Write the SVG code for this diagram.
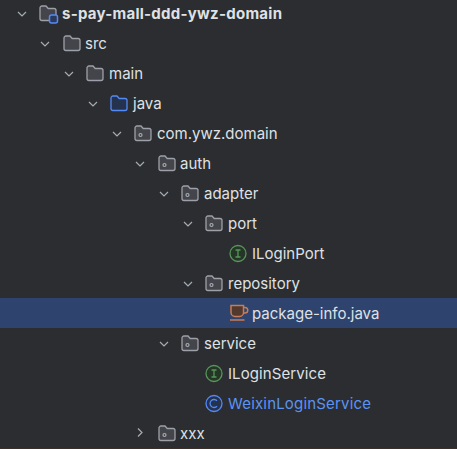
<svg xmlns="http://www.w3.org/2000/svg" width="457" height="449" viewBox="0 0 457 449">
<style>
text{font-family:Inter,"Noto Sans",sans-serif;font-size:15px;fill:#dfe1e5}
.chev{fill:none;stroke:#a8adb3;stroke-width:1.2}
.f{fill:#43454a;stroke:#9da0a8;stroke-width:1.3}
.dot{fill:none;stroke:#a8adb3;stroke-width:1.2}
</style>
<defs>
<path id="fp" d="M0.500 3a2 2 0 0 1 2-2h4l2.200 2.500h5.800a2 2 0 0 1 2 2v8a2 2 0 0 1-2 2h-12a2 2 0 0 1-2-2z"/>
<g id="pkg"><use href="#fp" class="f"/><circle cx="6" cy="10" r="1.500" class="dot"/></g>
<path id="cd" d="M-4-2L0 2L4-2" class="chev"/>
</defs>
<rect width="457" height="449" fill="#2b2d30"/>
<rect y="298" width="457" height="30" fill="#2e436e"/>
<rect y="448" width="457" height="1" fill="#3a3029"/>
<g id="connectors">
<use href="#cd" x="22" y="14"/><use href="#cd" x="45" y="44"/><use href="#cd" x="69" y="74"/><use href="#cd" x="93" y="104"/><use href="#cd" x="117" y="134"/><use href="#cd" x="140" y="164"/><use href="#cd" x="164" y="194"/><use href="#cd" x="188" y="224"/><use href="#cd" x="188" y="284"/><use href="#cd" x="164" y="344"/>
<path d="M138 428.500L142 432.500L138 436.500" class="chev"/>
</g>
<g id="n-root"><use href="#fp" class="f" x="39.500" y="5"/><rect x="49.500" y="15" width="8" height="8" rx="2" fill="#2b3a5c" stroke="#548af7" stroke-width="1.500"/><text x="62" y="19" font-weight="700" textLength="220">s-pay-mall-ddd-ywz-domain</text></g>
<g id="n-src"><use href="#fp" class="f" x="63.500" y="35"/><text x="85" y="49">src</text></g>
<g id="n-main"><use href="#fp" class="f" x="86.500" y="65"/><text x="109" y="79">main</text></g>
<g id="n-java"><use href="#fp" x="110.500" y="95" fill="#25324d" stroke="#548af7" stroke-width="1.300"/><text x="133" y="109">java</text></g>
<g id="n-com"><use href="#pkg" x="134.500" y="125"/><text x="157" y="139">com.ywz.domain</text></g>
<g id="n-auth"><use href="#pkg" x="158.500" y="155"/><text x="180" y="169">auth</text></g>
<g id="n-adapter"><use href="#pkg" x="181.500" y="185"/><text x="204" y="199">adapter</text></g>
<g id="n-port"><use href="#pkg" x="205.500" y="215"/><text x="228" y="229">port</text></g>
<g id="n-iloginport"><circle cx="238" cy="253.500" r="8" fill="#253627" stroke="#57965c" stroke-width="1.300"/><path d="M235.500 250h5M235.500 257h5M238 250v7" stroke="#57965c" stroke-width="1.300" fill="none"/><text x="252" y="259">ILoginPort</text></g>
<g id="n-repository"><use href="#pkg" x="205.500" y="275"/><text x="228" y="289">repository</text></g>
<g id="n-package-info"><path d="M231 305.500h12.500v7a4 4 0 0 1-4 4h-4.500a4 4 0 0 1-4-4z" fill="#53392d" stroke="#c77d55" stroke-width="1.500"/><path d="M243.500 307.500h1.500a2.200 2.200 0 0 1 0 5.500h-1.500M230 320h14.500" fill="none" stroke="#c77d55" stroke-width="1.500"/><text x="252" y="319">package-info.java</text></g>
<g id="n-service"><use href="#pkg" x="181.500" y="335"/><text x="204" y="349">service</text></g>
<g id="n-iloginservice"><circle cx="214" cy="373.500" r="8" fill="#253627" stroke="#57965c" stroke-width="1.300"/><path d="M211.500 370h5M211.500 377h5M214 370v7" stroke="#57965c" stroke-width="1.300" fill="none"/><text x="228" y="379" textLength="98">ILoginService</text></g>
<g id="n-weixin"><circle cx="214" cy="403.500" r="8" fill="#25324d" stroke="#548af7" stroke-width="1.300"/><path d="M217 400.800a4 4 0 1 0 0 5.400" stroke="#548af7" stroke-width="1.300" fill="none"/><text x="228" y="409" textLength="143" style="fill:#5b94f5">WeixinLoginService</text></g>
<g id="n-xxx"><use href="#pkg" x="158.500" y="425"/><text x="180" y="439">xxx</text></g>
</svg>
